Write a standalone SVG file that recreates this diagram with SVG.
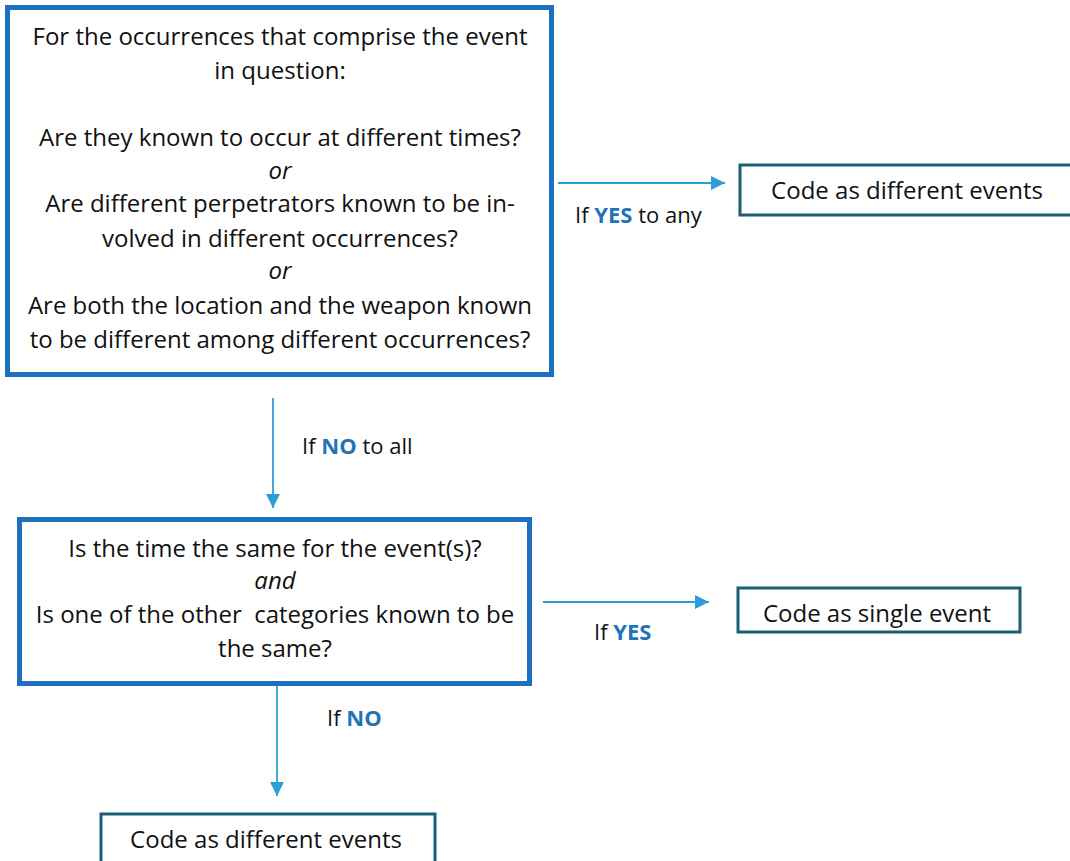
<svg xmlns="http://www.w3.org/2000/svg" width="1070" height="861" viewBox="0 0 1070 861">
<defs>
<style>
.big{font-family:"Open Sans","Liberation Sans",sans-serif;font-size:24px;fill:#111;text-anchor:middle}
.lbl{font-family:"Open Sans","Liberation Sans",sans-serif;font-size:22px;fill:#111}
.kw{fill:#1f73b7;font-weight:bold}
.q{fill:#fff;stroke:#1f6fc0;stroke-width:5}
.r{fill:#fff;stroke:#1a5f73;stroke-width:3}
.c{stroke:#2a9fd6;stroke-width:1.8;fill:none}
</style>
<marker id="ah2" viewBox="0 0 10 10" refX="10" refY="5" markerWidth="14" markerHeight="14" markerUnits="userSpaceOnUse" orient="auto"><path d="M0,0 L10,5 L0,10 z" fill="#2a9fd6"/></marker>
</defs>
<rect width="1070" height="861" fill="#fff"/>
<g id="connectors">
<line class="c" x1="558" y1="183" x2="725" y2="183" marker-end="url(#ah2)"/>
<line class="c" x1="273" y1="398" x2="273" y2="508" marker-end="url(#ah2)"/>
<line class="c" x1="543" y1="602" x2="709" y2="602" marker-end="url(#ah2)"/>
<line class="c" x1="277" y1="686" x2="277" y2="796" marker-end="url(#ah2)"/>
<text class="lbl" x="575" y="223">If <tspan class="kw">YES</tspan> to any</text>
<text class="lbl" x="302" y="454">If <tspan class="kw">NO</tspan> to all</text>
<text class="lbl" x="594" y="640">If <tspan class="kw">YES</tspan></text>
<text class="lbl" x="327" y="726">If <tspan class="kw">NO</tspan></text>
</g>
<g id="q1">
<rect class="q" x="7.5" y="7.5" width="544" height="367"/>
<text class="big" x="280" y="45">For the occurrences that comprise the event</text>
<text class="big" x="280" y="79">in question:</text>
<text class="big" x="280" y="146">Are they known to occur at different times?</text>
<text class="big" x="280" y="179" font-style="italic">or</text>
<text class="big" x="280" y="212">Are different perpetrators known to be in-</text>
<text class="big" x="280" y="247">volved in different occurrences?</text>
<text class="big" x="280" y="279" font-style="italic">or</text>
<text class="big" x="280" y="314">Are both the location and the weapon known</text>
<text class="big" x="280" y="348">to be different among different occurrences?</text>
</g>
<g id="r1">
<rect class="r" x="740" y="165" width="332" height="50"/>
<text class="big" x="907" y="199">Code as different events</text>
</g>
<g id="q2">
<rect class="q" x="19.5" y="519.5" width="510" height="164"/>
<text class="big" x="275" y="557">Is the time the same for the event(s)?</text>
<text class="big" x="275" y="589" font-style="italic">and</text>
<text class="big" x="275" y="623" xml:space="preserve">Is one of the other  categories known to be</text>
<text class="big" x="275" y="657">the same?</text>
</g>
<g id="r2">
<rect class="r" x="738" y="588" width="282" height="44"/>
<text class="big" x="877" y="622">Code as single event</text>
</g>
<g id="r3">
<rect class="r" x="101" y="814" width="334" height="60"/>
<text class="big" x="266" y="848">Code as different events</text>
</g>
</svg>
